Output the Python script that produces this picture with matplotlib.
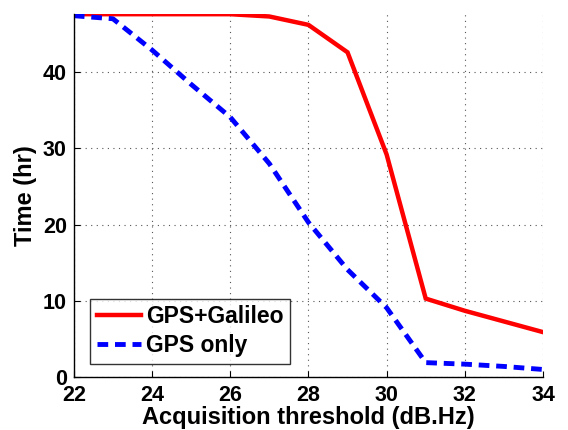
import matplotlib
matplotlib.use("Agg")
import matplotlib.pyplot as plt

threshold = [22, 23, 24, 25, 26, 27, 28, 29, 30, 31, 32, 33, 34]
gps_galileo = [47.6, 47.6, 47.6, 47.6, 47.6, 47.3, 46.2, 42.6, 29.2, 10.3, 8.7, 7.3, 5.9]
gps_only = [47.4, 47.0, 42.9, 38.4, 34.1, 28.0, 20.3, 14.1, 9.1, 1.9, 1.7, 1.4, 1.0]
xticks = [22, 24, 26, 28, 30, 32, 34]
yticks = [0, 10, 20, 30, 40]

plt.rcParams['font.family'] = ['Liberation Sans', 'DejaVu Sans']
plt.rcParams['font.weight'] = 'bold'

fig = plt.figure(figsize=(5.68, 4.30), dpi=100)
ax = fig.add_axes([0.130, 0.123, 0.826, 0.844])

ax.plot(threshold, gps_galileo, color='#ff0000', lw=3.2, label='GPS+Galileo', solid_joinstyle='miter')
ax.plot(threshold, gps_only, color='#0000ff', lw=3.5, ls=(0, (2.2, 1.4)), label='GPS only')

ax.set_xlim(22, 34)
ax.set_ylim(0, 47.6)
ax.set_xticks(xticks)
ax.set_yticks(yticks)
ax.tick_params(direction='in', labelsize=15.5, length=4, width=0.8)
ax.tick_params(axis='x', pad=6)
ax.tick_params(axis='y', pad=5)
for lab in ax.get_xticklabels() + ax.get_yticklabels():
    lab.set_fontweight('bold')
ax.grid(True, ls=(0, (1, 4)), color='#555555', lw=0.8)
for s in ['top', 'right']:
    ax.spines[s].set_visible(False)
ax.spines['left'].set_linewidth(1.0)
ax.spines['bottom'].set_linewidth(1.0)

ax.set_xlabel('Acquisition threshold (dB.Hz)', fontsize=17, fontweight='bold', labelpad=0)
ax.set_ylabel('Time (hr)', fontsize=17, fontweight='bold', labelpad=4)

leg = ax.legend(loc='lower left', bbox_to_anchor=(0.034, 0.036), fontsize=16.5, frameon=True,
                fancybox=False, edgecolor='black', handlelength=1.95, borderaxespad=0,
                handletextpad=0.2, borderpad=0.3, labelspacing=0.25)
leg.get_frame().set_linewidth(1.0)
for t in leg.get_texts():
    t.set_fontweight('bold')

fig.savefig('out.png', dpi=100)
